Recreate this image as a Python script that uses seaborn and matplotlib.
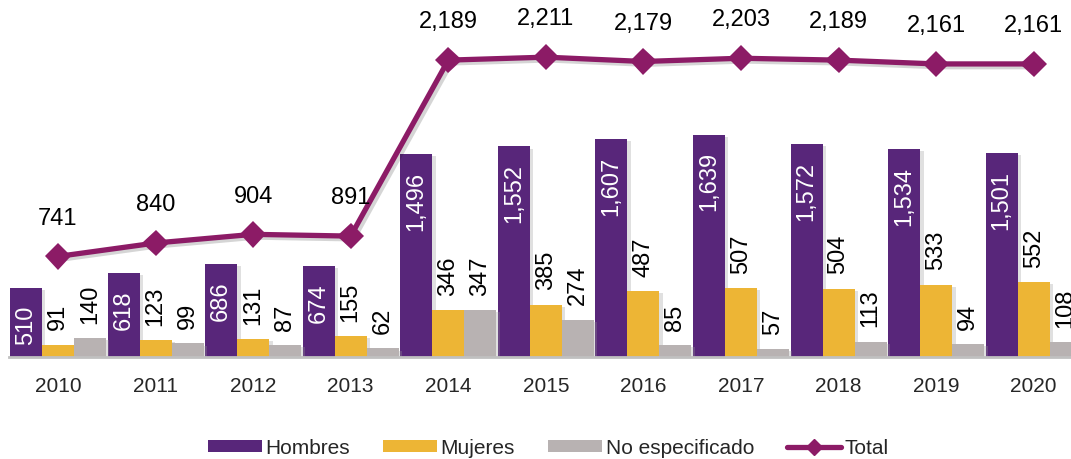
import numpy as np
import pandas as pd
import seaborn as sns
import matplotlib.pyplot as plt
import matplotlib.patheffects as pe
from matplotlib.patches import Patch
from matplotlib.lines import Line2D

years = ["2010", "2011", "2012", "2013", "2014", "2015", "2016", "2017", "2018", "2019", "2020"]
hombres = [510, 618, 686, 674, 1496, 1552, 1607, 1639, 1572, 1534, 1501]
mujeres = [91, 123, 131, 155, 346, 385, 487, 507, 504, 533, 552]
no_esp = [140, 99, 87, 62, 347, 274, 85, 57, 113, 94, 108]
total = [741, 840, 904, 891, 2189, 2211, 2179, 2203, 2189, 2161, 2161]

series = ["Hombres", "Mujeres", "No especificado"]
colors = ["#58267A", "#EDB535", "#B8B2B2"]
line_color = "#8C1B66"

df = pd.DataFrame({
    "year": years * 3,
    "serie": [s for s in series for _ in years],
    "value": hombres + mujeres + no_esp,
})

sns.set_theme(style="white")
plt.rcParams['font.family'] = ['Liberation Sans', 'DejaVu Sans']

fig = plt.figure(figsize=(10.71, 4.6), dpi=100)
ax = fig.add_axes([0.0084, 0.222, 0.9916, 0.778])

sns.barplot(data=df, x="year", y="value", hue="serie", palette=colors,
            width=0.984, gap=0, saturation=1, legend=False, ax=ax)

shadow = [pe.SimplePatchShadow(offset=(2.5, -1.5), shadow_rgbFace="#999999", alpha=0.3), pe.Normal()]
for p in ax.patches:
    p.set_linewidth(0)
    p.set_path_effects(shadow)

# bar labels
for i, cont in enumerate(ax.containers):
    for bar, v in zip(cont, [hombres, mujeres, no_esp][i]):
        xc = bar.get_x() + bar.get_width() / 2
        h = bar.get_height()
        if i == 0:
            ax.annotate(f"{v:,}", (xc, h), xytext=(0, -12), textcoords="offset points",
                        rotation=90, ha="center", va="top", color="white", fontsize=17)
        else:
            ax.annotate(f"{v:,}", (xc, h), xytext=(0, 11), textcoords="offset points",
                        rotation=90, ha="center", va="bottom", color="black", fontsize=17)

pos = np.arange(len(years))
sns.lineplot(x=pos, y=total, color=line_color, linewidth=3.8, marker="D",
             markersize=13.5, markeredgewidth=0, ax=ax,
             path_effects=[pe.SimpleLineShadow(offset=(2, -2), alpha=0.18), pe.Normal()])
for x, v in zip(pos, total):
    ax.annotate(f"{v:,}", (x, v), xytext=(0, 20), textcoords="offset points",
                ha="center", va="bottom", fontsize=17, color="black")

ax.set_xlim(-0.502, 10.382)
ax.set_ylim(0, 2640)
ax.set_xlabel("")
ax.set_ylabel("")
ax.set_yticks([])
ax.set_xticks(pos)
ax.set_xticklabels(years, fontsize=15)
ax.tick_params(axis="x", length=0, pad=14)
for s in ["top", "right", "left"]:
    ax.spines[s].set_visible(False)
ax.spines["bottom"].set_color("#C0C0C0")
ax.spines["bottom"].set_linewidth(2)
ax.set_facecolor("none")

handles = [Patch(facecolor=c, edgecolor="none") for c in colors]
handles.append(Line2D([], [], color=line_color, linewidth=3.8, marker="D", markersize=8))
fig.legend(handles, series + ["Total"], loc="center", bbox_to_anchor=(0.512, 0.024),
           ncol=4, frameon=False, fontsize=15, handlelength=2.6, handleheight=0.5,
           handletextpad=0.15, columnspacing=1.6, borderpad=0)

fig.savefig("out.png", dpi=100)
